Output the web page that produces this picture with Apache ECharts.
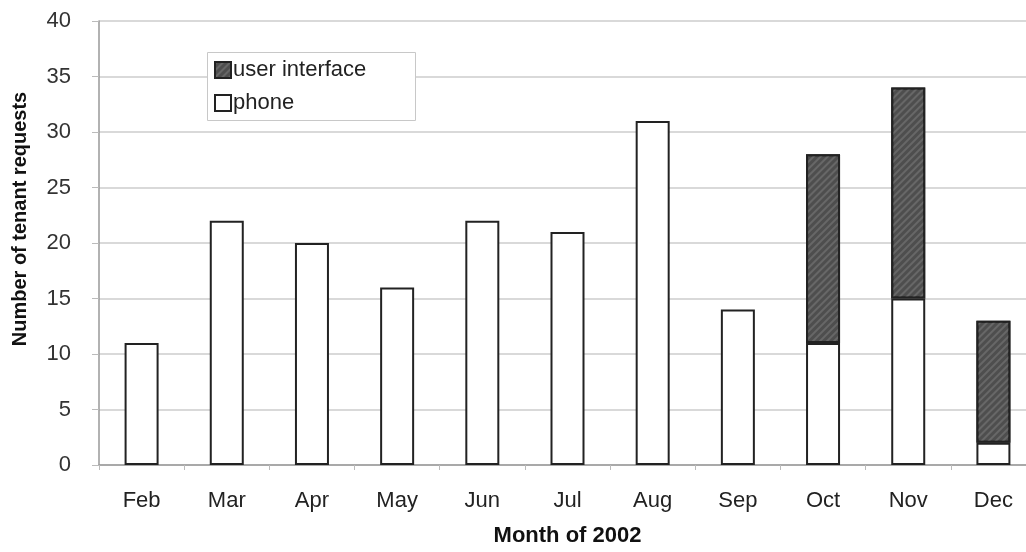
<!DOCTYPE html>
<html>
<head>
<meta charset="utf-8">
<script src="https://cdn.jsdelivr.net/npm/echarts@6/dist/echarts.min.js"></script>
<style>
  html, body { margin: 0; padding: 0; background: #fff; overflow: hidden; }
  /* canvas is a little wider than the window so the plot area runs off the right edge */
  #chart { width: 1040px; height: 552px; }
</style>
</head>
<body>
<div id="chart"></div>
<script>
// Monthly tenant requests, 2002
const months = ['Feb', 'Mar', 'Apr', 'May', 'Jun', 'Jul', 'Aug', 'Sep', 'Oct', 'Nov', 'Dec'];
const phoneRequests = [11, 22, 20, 16, 22, 21, 31, 14, 11, 15, 2];
const uiRequests = [0, 0, 0, 0, 0, 0, 0, 0, 17, 19, 11];
const yTicks = { min: 0, max: 40, interval: 5 };

const font = '"Liberation Sans", Arial, sans-serif';
// fine diagonal hatching for the "user interface" stack
const hatch = {
  symbol: 'rect',
  symbolSize: 1,
  dashArrayX: [1, 0],
  dashArrayY: [1.5, 3],
  rotation: -Math.PI / 4,
  color: 'rgba(120,120,120,0.6)'
};

const chart = echarts.init(document.getElementById('chart'), null, { renderer: 'canvas' });
chart.setOption({
  animation: false,
  backgroundColor: '#ffffff',
  grid: { left: 99, right: 4, top: 21, bottom: 81, containLabel: false },
  // framed panel behind the legend entries
  graphic: [{
    type: 'rect',
    left: 207,
    top: 52,
    z: 1,
    shape: { width: 208, height: 68 },
    style: { fill: '#ffffff', stroke: '#c8c8c8', lineWidth: 1 }
  }],
  legend: {
    orient: 'vertical',
    left: 207,
    top: 52,
    z: 5,
    padding: [7, 8, 7, 7],
    itemWidth: 16,
    itemHeight: 16,
    itemGap: 11,
    icon: 'rect',
    backgroundColor: 'transparent',
    borderWidth: 0,
    data: ['user interface', 'phone'],
    textStyle: { fontFamily: font, fontSize: 22, color: '#222', padding: [0, 0, 0, -3] }
  },
  xAxis: {
    type: 'category',
    data: months,
    boundaryGap: true,
    axisLine: { lineStyle: { color: '#999', width: 1.5 } },
    axisTick: { show: true, length: 5, lineStyle: { color: '#bbb' } },
    axisLabel: { margin: 25, fontFamily: font, fontSize: 22, color: '#222' },
    name: 'Month of 2002',
    nameLocation: 'middle',
    nameGap: 60,
    nameTextStyle: { fontFamily: font, fontSize: 22, fontWeight: 'bold', color: '#111' }
  },
  yAxis: {
    type: 'value',
    min: yTicks.min,
    max: yTicks.max,
    interval: yTicks.interval,
    axisLine: { show: true, lineStyle: { color: '#999', width: 1.5 } },
    axisTick: { show: true, length: 7, lineStyle: { color: '#bbb' } },
    splitLine: { show: true, lineStyle: { color: '#cdcdcd', width: 1.5 } },
    axisLabel: { margin: 28, fontFamily: font, fontSize: 22, color: '#333' },
    name: 'Number of tenant requests',
    nameLocation: 'middle',
    nameGap: 69,
    nameTextStyle: { fontFamily: font, fontSize: 20, fontWeight: 'bold', color: '#111', padding: [0, 0, 0, 48] }
  },
  series: [
    {
      name: 'phone',
      type: 'bar',
      stack: 'req',
      barWidth: 34,
      data: phoneRequests,
      itemStyle: { color: '#ffffff', borderColor: '#222', borderWidth: 2 }
    },
    {
      name: 'user interface',
      type: 'bar',
      stack: 'req',
      barWidth: 34,
      data: uiRequests.map(v => (v === 0 ? null : v)),
      itemStyle: { color: '#4e4e4e', borderColor: '#222', borderWidth: 2, decal: hatch }
    }
  ]
});
</script>
</body>
</html>
